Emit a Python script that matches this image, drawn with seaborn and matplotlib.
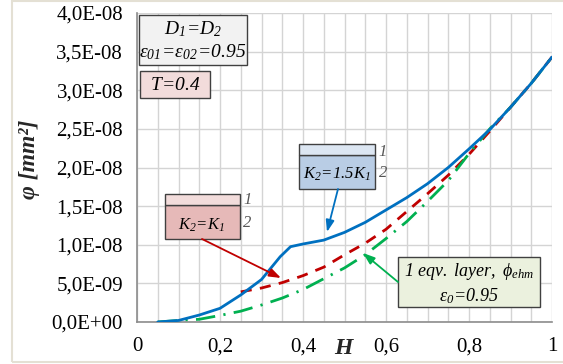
import numpy as np
import pandas as pd
import matplotlib
matplotlib.use("Agg")
import matplotlib.pyplot as plt
from matplotlib.patches import Rectangle, FancyArrowPatch
import seaborn as sns

# ---------------- data ----------------
H_blue = [0.05, 0.10, 0.15, 0.20, 0.25, 0.30, 0.345, 0.37, 0.40, 0.45, 0.50,
          0.55, 0.60, 0.65, 0.70, 0.75, 0.80, 0.85, 0.90, 0.95, 1.00]
phi_blue = [0.0, 0.02, 0.09, 0.177, 0.35, 0.55, 0.845, 0.975, 1.01, 1.06, 1.16,
            1.29, 1.45, 1.61, 1.79, 2.00, 2.24, 2.49, 2.78, 3.09, 3.43]  # x1e-8

H_red = [0.25, 0.30, 0.35, 0.40, 0.45, 0.50, 0.55, 0.60, 0.65, 0.70, 0.75,
         0.80, 0.85, 0.90, 0.95, 1.00]
phi_red = [0.39, 0.44, 0.51, 0.60, 0.71, 0.87, 1.02, 1.20, 1.43, 1.66, 1.90,
           2.17, 2.47, 2.78, 3.09, 3.43]

H_green = [0.05, 0.10, 0.15, 0.20, 0.25, 0.30, 0.35, 0.40, 0.45, 0.50, 0.55,
           0.60, 0.65, 0.70, 0.75, 0.80, 0.85, 0.90, 0.95, 1.00]
phi_green = [0.0, 0.02, 0.035, 0.085, 0.14, 0.22, 0.31, 0.42, 0.56, 0.70, 0.87,
             1.08, 1.30, 1.56, 1.83, 2.18, 2.50, 2.78, 3.09, 3.43]

series_names = ["K2=1.5K1", "K2=K1", "1 eqv. layer"]
x_ticks = [0, 0.2, 0.4, 0.6, 0.8, 1.0]
x_ticklabels = ["0", "0,2", "0,4", "0,6", "0,8", "1"]
y_ticks = [0, 0.5e-8, 1.0e-8, 1.5e-8, 2.0e-8, 2.5e-8, 3.0e-8, 3.5e-8, 4.0e-8]
y_ticklabels = ["0,0E+00", "5,0E-09", "1,0E-08", "1,5E-08", "2,0E-08",
                "2,5E-08", "3,0E-08", "3,5E-08", "4,0E-08"]

df = pd.concat([
    pd.DataFrame({"H": H_blue, "phi": np.array(phi_blue) * 1e-8, "s": series_names[0]}),
    pd.DataFrame({"H": H_red, "phi": np.array(phi_red) * 1e-8, "s": series_names[1]}),
    pd.DataFrame({"H": H_green, "phi": np.array(phi_green) * 1e-8, "s": series_names[2]}),
])

# ---------------- style ----------------
sns.set_theme(style="white")
plt.rcParams["font.family"] = ["Liberation Serif", "DejaVu Serif"]
plt.rcParams["mathtext.fontset"] = "custom"
plt.rcParams["mathtext.rm"] = "Liberation Serif:italic"
plt.rcParams["mathtext.it"] = "Liberation Serif:italic"
plt.rcParams["mathtext.bf"] = "Liberation Serif:bold:italic"

W, Hh = 563, 364
fig = plt.figure(figsize=(W / 100, Hh / 100), dpi=100)
X0, X1, Y0, Y1 = 137, 552, 322, 13
ax = fig.add_axes([X0 / W, 1 - Y0 / Hh, (X1 - X0) / W, (Y0 - Y1) / Hh])

palette = {series_names[0]: "#0070c0", series_names[1]: "#c00000", series_names[2]: "#00b050"}
dashes = {series_names[0]: "",
          series_names[1]: (4, 3),
          series_names[2]: (7, 3, 0.8, 3)}
sns.lineplot(data=df, x="H", y="phi", hue="s", style="s", palette=palette,
             dashes=dashes, legend=False, ax=ax, linewidth=2.0, sort=False,
             estimator=None)
for ln in ax.lines:
    if ln.get_color() == "#0070c0":
        ln.set_zorder(5)

ax.set_xlim(0, 1)
ax.set_ylim(0, 4e-8)
ax.set_xticks(x_ticks)
ax.set_xticklabels(x_ticklabels)
ax.set_xticks(np.arange(0, 1.0001, 0.05), minor=True)
ax.set_yticks(y_ticks)
ax.set_yticklabels(y_ticklabels)
ax.grid(True, which="both", axis="x", color="#d4d4d4", linewidth=1)
ax.grid(True, which="major", axis="y", color="#d4d4d4", linewidth=1)
ax.set_axisbelow(True)
for sp in ["top", "right"]:
    ax.spines[sp].set_visible(False)
for sp in ["left", "bottom"]:
    ax.spines[sp].set_color("#8c8c8c")
    ax.spines[sp].set_linewidth(1.2)
ax.tick_params(axis="both", which="major", direction="out", length=5,
               color="#8c8c8c", labelsize=15, labelcolor="black")
ax.tick_params(axis="x", which="major", pad=6)
ax.tick_params(axis="y", which="major", pad=5)
ax.tick_params(axis="x", which="minor", length=0)
ax.set_xlabel("")
ax.set_ylabel("")


def ap(px, py):
    return ((px - X0) / (X1 - X0), (Y0 - py) / (Y0 - Y1))


def box(x0, y0, x1, y1, fc, ec="#404040", lw=1.0):
    a = ap(x0, y1)
    b = ap(x1, y0)
    r = Rectangle(a, b[0] - a[0], b[1] - a[1], transform=ax.transAxes,
                  facecolor=fc, edgecolor=ec, linewidth=lw, clip_on=False, zorder=8)
    ax.add_patch(r)


def txt(px, py, s, size=13, color="black", **kw):
    x, y = ap(px, py)
    ax.text(x, y, s, transform=ax.transAxes, fontsize=size, color=color,
            ha="center", va="center", zorder=9, style="italic", **kw)


def arrow(p0, p1, color):
    a = FancyArrowPatch(ap(*p0), ap(*p1), transform=ax.transAxes,
                        arrowstyle="-|>,head_length=7,head_width=2.5",
                        color=color, linewidth=1.3, zorder=9, clip_on=False,
                        shrinkA=0, shrinkB=0)
    ax.add_patch(a)


# box 1
box(139, 15, 247, 65, "#f2f2f2")
txt(193, 29, r"$D_1\!=\!D_2$", size=14)
txt(193, 52, r"$\varepsilon_{01}\!=\!\varepsilon_{02}\!=\!0.95$", size=14)
# box 2
box(140, 71, 210, 98, "#f2dcdb")
txt(175, 85, r"$T\!=\!0.4$", size=14)

# box 3 K2=K1
box(165, 205, 240, 239, "#e6b9b8")
box(165, 194, 240, 205, "#f2dcdb")
txt(202, 225, r"$K_2\!=\!K_1$", size=12)
txt(248, 200, "1", size=12, color="#555555")
txt(247, 223, "2", size=12, color="#555555")
arrow((202, 239), (281, 278), "#c00000")

# box 4 K2=1.5K1
box(299, 155, 375, 189, "#b9cde5")
box(299, 144, 375, 155, "#dce6f2")
txt(337, 174, r"$K_2\!=\!1.5K_1$", size=12)
txt(383, 152, "1", size=12, color="#555555")
txt(383, 173, "2", size=12, color="#555555")
arrow((338, 189), (327, 232), "#0070c0")

# box 5
box(398, 257, 540, 307, "#ebf1de")
txt(469, 272, r"$1\ eqv.\ layer,\ \phi_{ehm}$", size=13)
txt(469, 296, r"$\varepsilon_0\!=\!0.95$", size=13)
arrow((398, 282), (363, 253), "#00b050")

# axis labels
fig.text(30 / W, 1 - 159 / Hh, "φ [mm²]", rotation=90, ha="center", va="center",
         fontsize=17, fontweight="bold", style="italic")
fig.text(343 / W, 1 - 348 / Hh, "H", ha="center", va="center", fontsize=17,
         fontweight="bold", style="italic")

# outer frame
fig.patches.append(Rectangle((12 / W, 1 - 362 / Hh), (W - 12) / W + 0.01, 361 / Hh,
                             transform=fig.transFigure, fill=False,
                             edgecolor="#e4e0d4", linewidth=1.5, zorder=0))

fig.savefig("out.png", dpi=100)
